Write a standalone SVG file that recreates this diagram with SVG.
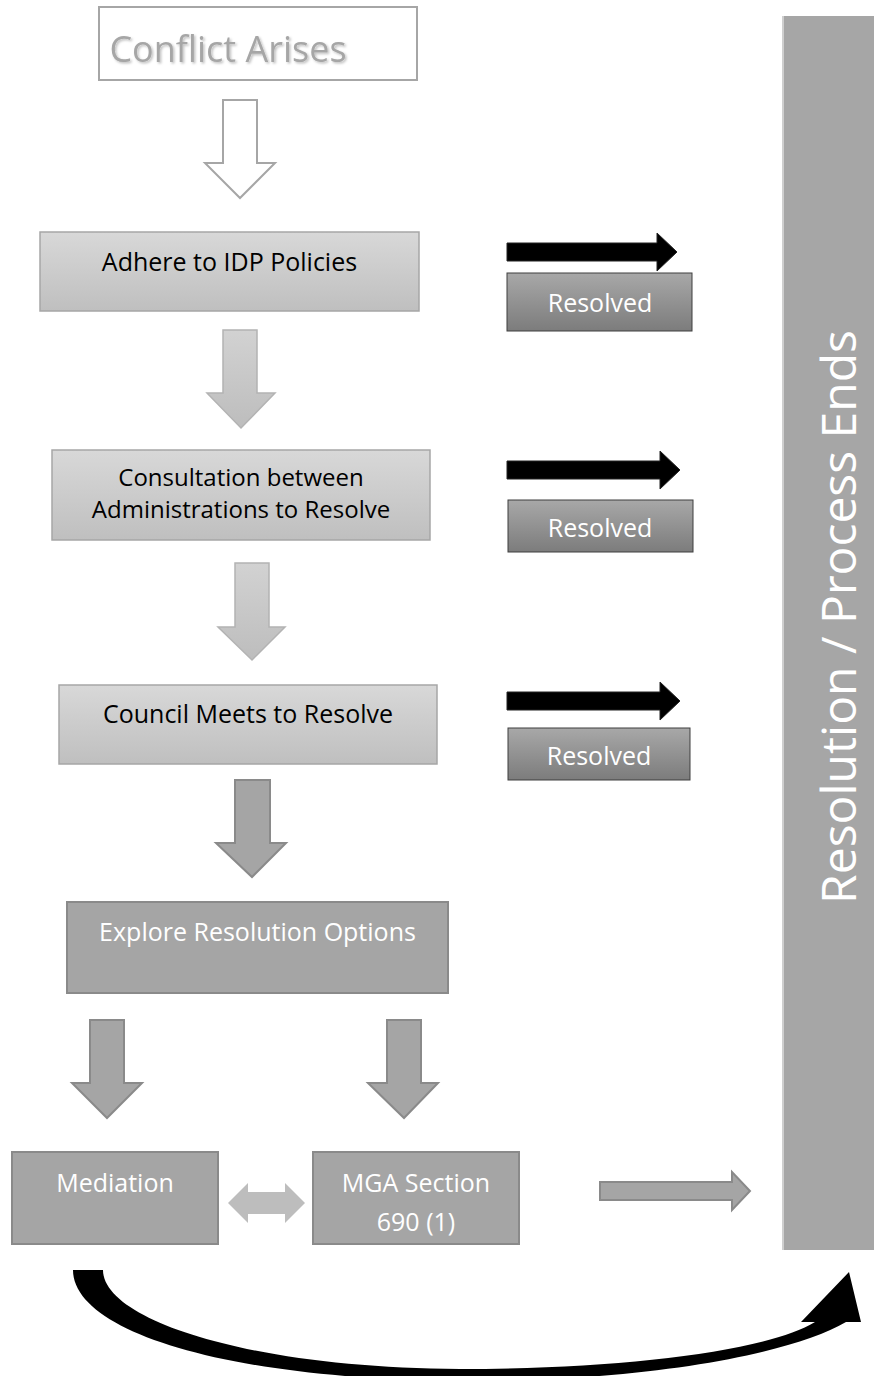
<svg xmlns="http://www.w3.org/2000/svg" width="874" height="1376" viewBox="0 0 874 1376">
<defs>
<linearGradient id="gLight" x1="0" y1="0" x2="0" y2="1"><stop offset="0" stop-color="#d8d8d8"/><stop offset="1" stop-color="#bfbfbf"/></linearGradient>
<linearGradient id="gArrowLight" x1="0" y1="0" x2="0" y2="1"><stop offset="0" stop-color="#d2d2d2"/><stop offset="1" stop-color="#bdbdbd"/></linearGradient>
<linearGradient id="gRes" x1="0" y1="0" x2="0" y2="1"><stop offset="0" stop-color="#a8a8a8"/><stop offset="1" stop-color="#7c7c7c"/></linearGradient>
<filter id="shadow" x="-10%" y="-20%" width="120%" height="140%"><feDropShadow dx="1.5" dy="1.5" stdDeviation="1" flood-color="#000" flood-opacity="0.25"/></filter>
<style>
text{font-family:"Open Sans","Liberation Sans",sans-serif;text-anchor:middle}
.t{font-size:25px;fill:#000}
.t2{font-size:24px;fill:#000}
.w{font-size:25px;fill:#fff}
.light{fill:url(#gLight);stroke:#a6a6a6;stroke-width:1.5}
.res{fill:url(#gRes);stroke:#3f3f3f;stroke-width:1}
.dark{fill:#a5a5a5;stroke:#8a8a8a;stroke-width:2}
.blk{fill:#000;stroke:#222;stroke-width:1}
.open{fill:#fff;stroke:#a6a6a6;stroke-width:2}
.la{fill:url(#gArrowLight);stroke:#b3b3b3;stroke-width:1.5}
</style>
</defs>

<g id="bar">
<rect x="782" y="16" width="92" height="1234" fill="#a6a6a6"/>
<line x1="783" y1="16" x2="783" y2="1250" stroke="#cfcfcf" stroke-width="2"/>
<text transform="translate(856,617) rotate(-90)" style="font-size:48px;fill:#fff">Resolution / Process Ends</text>
</g>

<g id="conflict">
<rect x="99" y="7" width="318" height="73" fill="#fff" stroke="#a6a6a6" stroke-width="2"/>
<text x="228" y="62" style="font-size:36px;fill:#a6a6a6" filter="url(#shadow)">Conflict Arises</text>
</g>

<g id="adhere">
<rect x="40" y="232" width="379" height="79" class="light"/>
<text x="229.5" y="271" class="t">Adhere to IDP Policies</text>
</g>

<g id="consultation">
<rect x="52" y="450" width="378" height="90" class="light"/>
<text x="241" y="486" class="t2">Consultation between</text>
<text x="241" y="518" class="t2">Administrations to Resolve</text>
</g>

<g id="council">
<rect x="59" y="685" width="378" height="79" class="light"/>
<text x="248" y="723" class="t">Council Meets to Resolve</text>
</g>

<g id="explore">
<rect x="67" y="902" width="381" height="91" class="dark"/>
<text x="257.5" y="941" class="w">Explore Resolution Options</text>
</g>

<g id="mediation">
<rect x="12" y="1152" width="206" height="92" class="dark"/>
<text x="115" y="1192" class="w">Mediation</text>
</g>

<g id="mga">
<rect x="313" y="1152" width="206" height="92" class="dark"/>
<text x="416" y="1192" class="w">MGA Section</text>
<text x="416" y="1231" class="w">690 (1)</text>
</g>

<g id="resolved1">
<rect x="507" y="273" width="185" height="58" class="res"/>
<text x="600" y="312" class="w">Resolved</text>
</g>

<g id="resolved2">
<rect x="508" y="500" width="185" height="52" class="res"/>
<text x="600" y="537" class="w">Resolved</text>
</g>

<g id="resolved3">
<rect x="508" y="728" width="182" height="52" class="res"/>
<text x="599" y="765" class="w">Resolved</text>
</g>

<g id="connectors">
<polygon class="open" points="223,100 257,100 257,163 275,163 240,198 205,163 223,163"/>
<polygon class="la" points="223,330 257,330 257,393 275,393 241,428 207,393 223,393"/>
<polygon class="la" points="235,563 269,563 269,627 285,627 252,660 218,627 235,627"/>
<polygon class="dark" points="235,780 270,780 270,843 286,843 252,877 216,843 235,843"/>
<polygon class="dark" points="90,1020 124,1020 124,1083 142,1083 107,1118 72,1083 90,1083"/>
<polygon class="dark" points="387,1020 421,1020 421,1083 438,1083 404,1118 368,1083 387,1083"/>
<polygon class="blk" points="507,243 657,243 657,233 677,252 657,271 657,261 507,261"/>
<polygon class="blk" points="507,461 660,461 660,451 680,470 660,489 660,479 507,479"/>
<polygon class="blk" points="507,692 660,692 660,682 680,701 660,720 660,710 507,710"/>
<polygon fill="#bdbdbd" stroke="none" points="228,1203 248,1183 248,1192 285,1192 285,1183 305,1203 285,1223 285,1214 248,1214 248,1223"/>
<polygon class="dark" points="600,1182 732,1182 732,1172 750,1191 732,1210 732,1200 600,1200"/>
<path fill="#000" d="M73,1270 C73,1330 220,1379 460,1381 C640,1382 790,1355 846,1322 L861,1322 L849,1272 L801,1322 L815,1322 C765,1352 620,1369 460,1369 C250,1368 103,1320 103,1270 Z"/>
</g>
</svg>
